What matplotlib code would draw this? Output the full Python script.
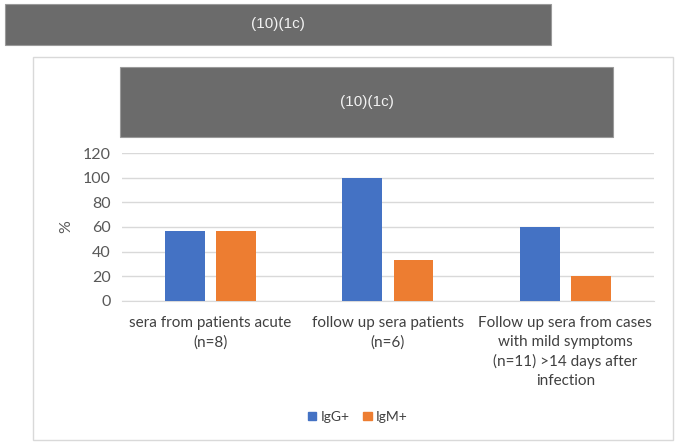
import matplotlib
matplotlib.use('Agg')
import matplotlib.pyplot as plt
from matplotlib.patches import Rectangle, Patch
import numpy as np

categories = ['sera from patients acute\n(n=8)',
              'follow up sera patients\n(n=6)',
              'Follow up sera from cases\nwith mild symptoms\n(n=11) >14 days after\ninfection']
igg = [57, 100, 60]
igm = [57, 33, 20]
series_names = ['IgG+', 'IgM+']
title = '(10)(1c)'
yticks = [0, 20, 40, 60, 80, 100, 120]

blue = '#4472c4'
orange = '#ed7d31'
banner = '#6b6b6b'
textcol = '#595959'

plt.rcParams['font.family'] = ['Lato', 'DejaVu Sans']

fig = plt.figure(figsize=(6.75, 4.44), dpi=100)

# outer chart border
fig.patches.append(Rectangle((0.049, 0.009), 0.948, 0.863, transform=fig.transFigure,
                             facecolor='white', edgecolor='#d9d9d9', lw=1, zorder=0))
# grey banner above the chart
fig.patches.append(Rectangle((0.0074, 0.8986), 0.809, 0.0923, transform=fig.transFigure,
                             facecolor=banner, edgecolor='#9a9a9a', lw=0.8, zorder=1))
fig.text(0.4115, 0.945, title, ha='center', va='center', color='#f2f2f2',
         fontsize=11, family='Liberation Sans')
# chart title box
fig.patches.append(Rectangle((0.1778, 0.6914), 0.7304, 0.1577, transform=fig.transFigure,
                             facecolor=banner, edgecolor='#9a9a9a', lw=0.8, zorder=1))
fig.text(0.543, 0.7703, title, ha='center', va='center', color='#f2f2f2',
         fontsize=11, family='Liberation Sans')

ax = fig.add_axes([0.1807, 0.3228, 0.788, 0.3319])
ax.set_zorder(2)
ax.patch.set_alpha(0)
x = np.arange(len(categories))
w = 0.225
ax.bar(x - 0.144, igg, w, color=blue, label=series_names[0], zorder=3)
ax.bar(x + 0.144, igm, w, color=orange, label=series_names[1], zorder=3)

ax.set_xlim(-0.5, 2.5)
ax.set_ylim(0, 120)
ax.set_yticks(yticks)
ax.yaxis.grid(True, color='#d9d9d9', lw=1, zorder=0)
ax.set_axisbelow(True)
for s in ['top', 'right', 'left']:
    ax.spines[s].set_visible(False)
ax.spines['bottom'].set_color('#d9d9d9')
ax.tick_params(axis='both', length=0, colors=textcol, labelsize=11.5)
ax.tick_params(axis='y', pad=8)
ax.tick_params(axis='x', pad=11)
ax.set_xticks(x)
ax.set_xticklabels(categories, fontsize=11, color='#404040', linespacing=1.45)
ax.set_ylabel('%', color=textcol, fontsize=11.5, labelpad=7)

handles = [Patch(color=blue), Patch(color=orange)]
leg = fig.legend(handles, series_names, loc='center', bbox_to_anchor=(0.53, 0.061),
                 ncol=2, frameon=False, fontsize=10, handlelength=0.6, handleheight=0.6,
                 handletextpad=0.3, columnspacing=1.0, labelcolor='#404040')
leg.set_zorder(3)

fig.savefig('out.png', dpi=100)
